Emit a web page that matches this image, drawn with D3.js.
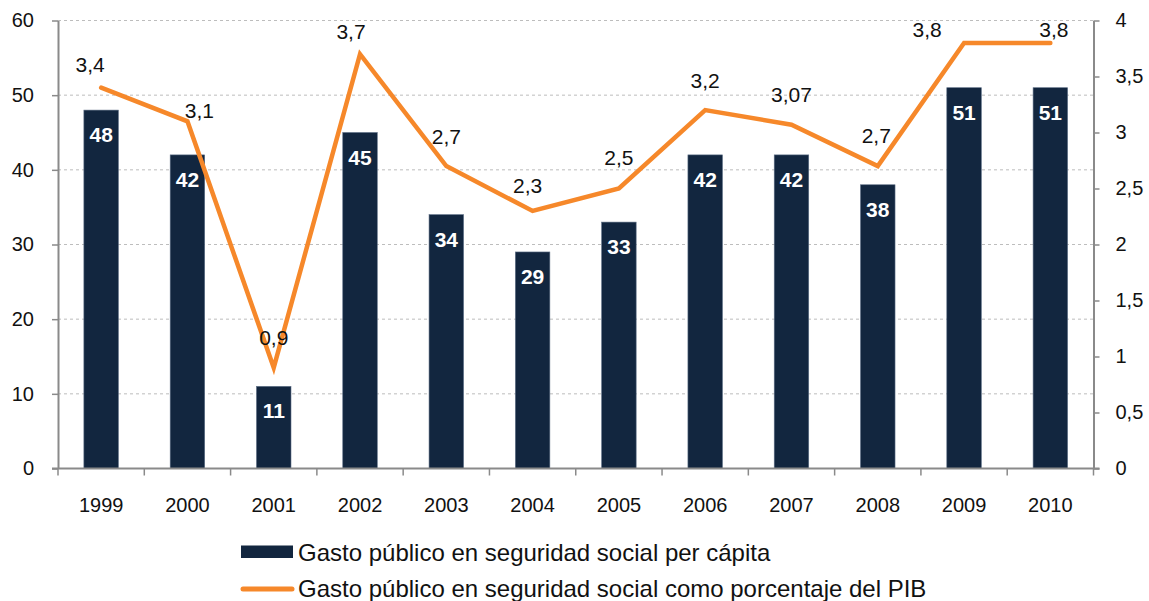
<!DOCTYPE html>
<html>
<head>
<meta charset="utf-8">
<script src="https://cdn.jsdelivr.net/npm/d3@7"></script>
<style>
  html, body { margin: 0; padding: 0; background: #fff; }
  svg { display: block; font-family: "Liberation Sans", Arial, Helvetica, sans-serif; }
</style>
</head>
<body>
<svg id="chart" width="1149" height="601"></svg>
<script>
// Gasto público en seguridad social, 1999–2010
const years = ["1999","2000","2001","2002","2003","2004","2005","2006","2007","2008","2009","2010"];
const perCapita = [48, 42, 11, 45, 34, 29, 33, 42, 42, 38, 51, 51];
const pctPIB = [3.4, 3.1, 0.9, 3.7, 2.7, 2.3, 2.5, 3.2, 3.07, 2.7, 3.8, 3.8];
const leftTicks = [0, 10, 20, 30, 40, 50, 60];
const rightTicks = [0, 0.5, 1, 1.5, 2, 2.5, 3, 3.5, 4];
const legendLabels = [
  "Gasto público en seguridad social per cápita",
  "Gasto público en seguridad social como porcentaje del PIB"
];
// hand-placed offsets for the percentage labels, [dx, dy] from each point
const pctLabelNudge = [[-11,-16],[12,-3.5],[0,-23],[-9,-15.5],[0,-22.5],[-5,-18.3],
                       [0,-24],[0,-22.5],[0,-23],[-1.5,-23.3],[-37,-6],[3.5,-6]];

const NAVY = "#12263f", ORANGE = "#f6882a", AXIS = "#8a8a8a";
const fmt = v => String(v).replace(".", ",");

const svg = d3.select("#chart");
const plotL = 58, plotR = 1093.5, plotT = 20.5, plotB = 468.5;

const x = d3.scaleBand().domain(years).range([plotL, plotR]).paddingInner(0.6).paddingOuter(0.3);
const yL = d3.scaleLinear().domain([0, 60]).range([plotB, plotT]);
const yR = d3.scaleLinear().domain([0, 4]).range([plotB, plotT]);
const cx = d => x(d) + x.bandwidth() / 2;

// dotted gridlines on the left-axis ticks
svg.append("g").selectAll("line").data(leftTicks.filter(t => t > 0)).join("line")
  .attr("x1", plotL).attr("x2", plotR)
  .attr("y1", d => yL(d)).attr("y2", d => yL(d))
  .attr("stroke", "#bdbdbd").attr("stroke-width", 1).attr("stroke-dasharray", "3,3");

// bars
svg.append("g").selectAll("rect").data(perCapita).join("rect")
  .attr("x", (d, i) => x(years[i]))
  .attr("y", d => yL(d))
  .attr("width", x.bandwidth())
  .attr("height", d => yL(0) - yL(d))
  .attr("fill", NAVY)
  .attr("stroke", "#5d6e85").attr("stroke-width", 0.6);

// values inside bars
svg.append("g").selectAll("text").data(perCapita).join("text")
  .attr("x", (d, i) => cx(years[i]))
  .attr("y", d => yL(d) + 32)
  .attr("text-anchor", "middle")
  .attr("fill", "#fff").attr("font-weight", "bold").attr("font-size", 21)
  .text(d => d);

// axes
const axisStyle = g => {
  g.selectAll(".domain").attr("stroke", AXIS).attr("stroke-width", 2);
  g.selectAll(".tick line").attr("stroke", AXIS).attr("stroke-width", 1.5);
  g.selectAll(".tick text").attr("fill", "#111").attr("font-size", 20)
    .attr("font-family", "'Liberation Sans', Arial, Helvetica, sans-serif");
};

svg.append("g").attr("transform", `translate(${plotL},0)`)
  .call(d3.axisLeft(yL).tickValues(leftTicks).tickFormat(fmt).tickSizeInner(6).tickSizeOuter(0).tickPadding(18))
  .call(axisStyle);

svg.append("g").attr("transform", `translate(${plotR},0)`)
  .call(d3.axisRight(yR).tickValues(rightTicks).tickFormat(fmt).tickSizeInner(6).tickSizeOuter(0).tickPadding(16))
  .call(axisStyle);

// category axis: ticks sit on the boundaries between years
const xAxis = svg.append("g").attr("transform", `translate(0,${plotB})`);
xAxis.append("line").attr("x1", plotL - 6).attr("x2", plotR + 6).attr("y1", 0).attr("y2", 0)
  .attr("stroke", AXIS).attr("stroke-width", 2);
const step = x.step();
xAxis.selectAll("line.b").data(d3.range(years.length + 1)).join("line").attr("class", "b")
  .attr("x1", i => plotL + i * step).attr("x2", i => plotL + i * step)
  .attr("y1", 0).attr("y2", 7)
  .attr("stroke", AXIS).attr("stroke-width", 1.5);
xAxis.selectAll("text").data(years).join("text")
  .attr("x", d => cx(d)).attr("y", 43.5)
  .attr("text-anchor", "middle").attr("font-size", 20).attr("fill", "#111")
  .text(d => d);

// percentage line
const line = d3.line().x((d, i) => cx(years[i])).y(d => yR(d));
svg.append("path").datum(pctPIB)
  .attr("d", line)
  .attr("fill", "none").attr("stroke", ORANGE).attr("stroke-width", 4.5)
  .attr("stroke-linejoin", "miter").attr("stroke-linecap", "round");

svg.append("g").selectAll("text").data(pctPIB).join("text")
  .attr("x", (d, i) => cx(years[i]) + pctLabelNudge[i][0])
  .attr("y", (d, i) => yR(d) + pctLabelNudge[i][1])
  .attr("text-anchor", "middle").attr("font-size", 21).attr("fill", "#111")
  .text(d => fmt(d));

// legend
const lg = svg.append("g");
lg.append("rect").attr("x", 241).attr("y", 545.5).attr("width", 52).attr("height", 12.5).attr("fill", NAVY);
lg.append("line").attr("x1", 243).attr("x2", 292).attr("y1", 589).attr("y2", 589)
  .attr("stroke", ORANGE).attr("stroke-width", 5).attr("stroke-linecap", "round");
lg.selectAll("text").data(legendLabels).join("text")
  .attr("x", 298).attr("y", (d, i) => 560.5 + i * 36.5)
  .attr("font-size", 24).attr("fill", "#111")
  .text(d => d);
</script>
</body>
</html>
